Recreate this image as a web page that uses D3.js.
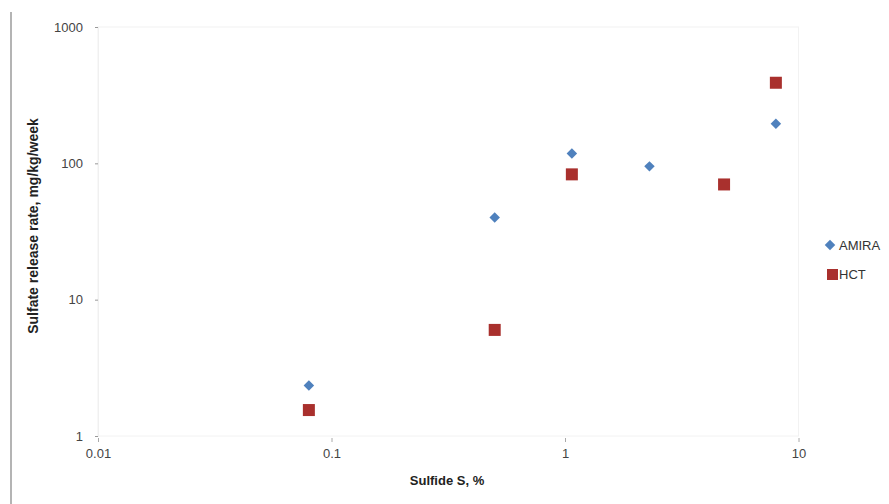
<!DOCTYPE html>
<html lang="en">
<head>
  <meta charset="UTF-8">
  <title>Sulfate release rate vs sulfide S</title>
  <script src="https://d3js.org/d3.v7.min.js"></script>
  <style>
    body { margin: 0; background: #fff; }
    svg { display: block; font-family: "Liberation Sans", Arial, sans-serif; }
  </style>
</head>
<body>
  <svg id="chart" width="889" height="504"></svg>
  <script>
    // values
    const amiraSulfide = [0.08, 0.5, 1.07, 2.3, 8];
    const amiraRate = [2.35, 40, 118, 95, 195];
    const hctSulfide = [0.08, 0.5, 1.07, 4.8, 8];
    const hctRate = [1.55, 6, 83, 70, 390];
    const xTicks = [0.01, 0.1, 1, 10];
    const yTicks = [1, 10, 100, 1000];
    const seriesNames = ["AMIRA", "HCT"];

    const svg = d3.select("#chart");
    const plotLeft = 98, plotRight = 798.5, plotTop = 27, plotBottom = 436;

    const x = d3.scaleLog().domain([0.01, 10]).range([plotLeft, plotRight]);
    const y = d3.scaleLog().domain([1, 1000]).range([plotBottom, plotTop]);

    // outer border line on the left
    svg.append("line")
      .attr("x1", 11).attr("x2", 11).attr("y1", 12).attr("y2", 504)
      .attr("stroke", "#b4b4b4").attr("stroke-width", 2);

    // faint plot frame
    svg.append("rect")
      .attr("x", plotLeft).attr("y", plotTop)
      .attr("width", plotRight - plotLeft).attr("height", plotBottom - plotTop)
      .attr("fill", "none").attr("stroke", "#f2f2f2");

    // y axis
    const yAxis = svg.append("g")
      .attr("transform", `translate(${plotLeft},0)`)
      .call(d3.axisLeft(y).tickValues(yTicks).tickFormat(d3.format("d")).tickSize(3).tickPadding(12));
    yAxis.select(".domain").attr("stroke", "#f0f0f0");
    yAxis.selectAll(".tick line").attr("stroke", "#999");
    yAxis.selectAll("text").attr("fill", "#444").style("font-size", "13px");

    // x axis
    const xAxis = svg.append("g")
      .attr("transform", `translate(0,${plotBottom})`)
      .call(d3.axisBottom(x).tickValues(xTicks).tickFormat(d => String(d)).tickSize(4).tickPadding(9));
    xAxis.select(".domain").attr("stroke", "none");
    xAxis.selectAll(".tick line").attr("stroke", "#aaa").attr("transform", "translate(0,2)");
    xAxis.selectAll("text").attr("fill", "#444").style("font-size", "13px");

    // axis titles
    svg.append("text")
      .attr("transform", "translate(38,226) rotate(-90)")
      .attr("text-anchor", "middle")
      .style("font-size", "14px").style("font-weight", "bold")
      .attr("fill", "#222")
      .text("Sulfate release rate, mg/kg/week");

    svg.append("text")
      .attr("x", 447).attr("y", 485)
      .attr("text-anchor", "middle")
      .style("font-size", "13px").style("font-weight", "bold")
      .attr("fill", "#222")
      .text("Sulfide S, %");

    const diamond = d3.symbol().type(d3.symbolDiamond2).size(70);
    const blue = "#4f81bd", red = "#a9302d";

    const amira = amiraSulfide.map((v, i) => [v, amiraRate[i]]);
    const hct = hctSulfide.map((v, i) => [v, hctRate[i]]);

    svg.append("g").selectAll("rect")
      .data(hct).enter().append("rect")
      .attr("x", d => x(d[0]) - 6).attr("y", d => y(d[1]) - 6)
      .attr("width", 12).attr("height", 12)
      .attr("fill", red);

    svg.append("g").selectAll("path")
      .data(amira).enter().append("path")
      .attr("d", diamond)
      .attr("transform", d => `translate(${x(d[0])},${y(d[1])})`)
      .attr("fill", blue);

    // legend
    const legend = svg.append("g");
    legend.append("path").attr("d", diamond).attr("transform", "translate(830,245)").attr("fill", blue);
    legend.append("rect").attr("x", 827).attr("y", 269).attr("width", 11).attr("height", 11).attr("fill", red);
    legend.selectAll("text")
      .data(seriesNames).enter().append("text")
      .attr("x", 839).attr("y", (d, i) => 250 + i * 29)
      .style("font-size", "13px").attr("fill", "#333")
      .text(d => d);
  </script>
</body>
</html>
